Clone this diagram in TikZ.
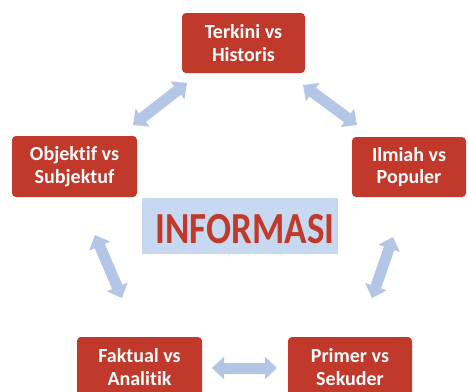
\documentclass[tikz,border=0pt]{standalone}
\usepackage{fontspec}
\setmainfont{Carlito}[Ligatures=NoCommon]
\usetikzlibrary{arrows.meta}
\definecolor{boxred}{RGB}{192,57,43}
\definecolor{arrowblue}{RGB}{180,198,230}
\definecolor{infoblue}{RGB}{198,217,241}
\tikzset{
  redbox/.style={fill=boxred, rounded corners=4pt, inner sep=0pt, text=white, align=center,
    font=\bfseries\fontsize{20}{22.5}\selectfont},
  blockarrow/.style={draw=arrowblue, line width=11pt,
    {Triangle[width=22pt,length=12pt]}-{Triangle[width=22pt,length=12pt]}}
}
\begin{document}
\begin{tikzpicture}[x=1pt,y=-1pt]
\useasboundingbox (0,0) rectangle (468,391);
\clip (0,0) rectangle (468,391);
% boxes
\node[redbox, minimum width=123pt, minimum height=60pt] (top) at (243.5,43) {Terkini vs\\Historis};
\node[redbox, minimum width=125pt, minimum height=61pt] (left) at (74.5,166.5) {Objektif vs\\Subjektuf};
\node[redbox, minimum width=114pt, minimum height=60pt] (right) at (409,167) {Ilmiah vs\\Populer};
\node[redbox, minimum width=125pt, minimum height=60pt] (bl) at (139.5,367) {Faktual vs\\Analitik};
\node[redbox, minimum width=124pt, minimum height=60pt] (br) at (350,367) {Primer vs\\Sekuder};
\node[fill=infoblue, minimum width=196pt, minimum height=56pt, inner sep=0pt,
  text height=34pt, text depth=0pt,
  text=boxred, font=\bfseries\fontsize{37}{40}\selectfont] (info) at (240,226) {\hspace*{10pt}\scalebox{1}[1.2]{INFORMASI}};
% arrow end points
\coordinate (a1s) at (133,125); \coordinate (a1e) at (187,83);
\coordinate (a2s) at (303,85);  \coordinate (a2e) at (357,125);
\coordinate (a3s) at (393,237); \coordinate (a3e) at (372,298);
\coordinate (a4s) at (212,368); \coordinate (a4e) at (277,368);
\coordinate (a5s) at (95,235);  \coordinate (a5e) at (122,298);
\draw[blockarrow] (a1s) -- (a1e);
\draw[blockarrow] (a2s) -- (a2e);
\draw[blockarrow] (a3s) -- (a3e);
\draw[blockarrow] (a4s) -- (a4e);
\draw[blockarrow] (a5s) -- (a5e);
\end{tikzpicture}
\end{document}
